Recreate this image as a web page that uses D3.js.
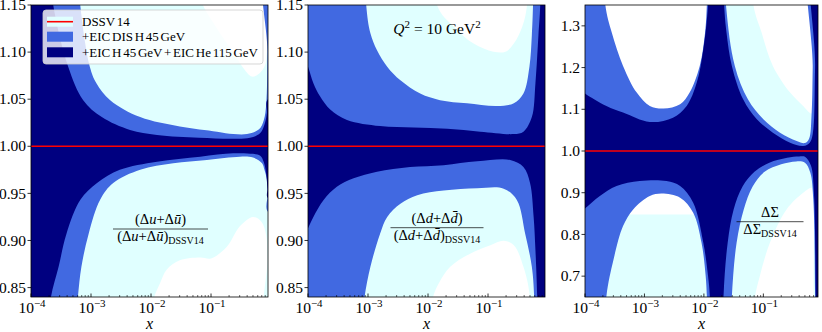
<!DOCTYPE html>
<html><head><meta charset="utf-8">
<script src="https://cdn.jsdelivr.net/npm/d3@7"></script>
<style>
body{margin:0;background:#fff;}
svg, svg text{font-family:"Liberation Serif","DejaVu Serif",serif;}
</style></head><body>
<svg id="chart" width="822" height="332" font-family="Liberation Serif, DejaVu Serif, serif"></svg>
<script>
// ---------- DATA (x given as log10 x, y as ratio) ----------
const xTickExponents = [-4, -3, -2, -1];
const yTicksUD = [0.85, 0.90, 0.95, 1.00, 1.05, 1.10, 1.15];
const yTicksSigma = [0.7, 0.8, 0.9, 1.0, 1.1, 1.2, 1.3];
const legendLabels = ["DSSV 14", "+EIC DIS H 45 GeV", "+EIC H 45 GeV + EIC He 115 GeV"];

// Panel 1: (Δu+Δū)
const uCyanUpper = [[-4.1,1.3],[-1.6,1.3],[-1.2,1.16],[-0.9,1.125],[-0.6,1.097],[-0.45,1.082],[-0.32,1.074],[-0.2,1.077],[-0.1,1.086],[-0.07,1.1],[-0.05,1.2],[-0.04,1.3]];
const uCyanLower = [[-4.1,0.7],[-2.05,0.8],[-1.95,0.839],[-1.85,0.8545],[-1.74,0.869],[-1.52,0.879],[-1.18,0.882],[-1.0,0.881],[-0.74,0.893],[-0.52,0.915],[-0.3,0.925],[-0.16,0.92],[-0.08,0.905],[-0.06,0.88],[-0.05,0.8]];
const uBlueUpper = [[-4.1,1.3],[-3.3,1.25],[-3.18,1.15],[-3.02,1.0845],[-2.91,1.067],[-2.68,1.049],[-2.18,1.031],[-1.52,1.021],[-0.9,1.0155],[-0.63,1.013],[-0.4,1.013],[-0.2,1.018],[-0.12,1.028],[-0.08,1.045],[-0.06,1.1],[-0.05,1.2]];
const uBlueLower = [[-4.1,0.6],[-3.27,0.8],[-3.22,0.839],[-3.16,0.872],[-3.04,0.907],[-2.85,0.943],[-2.63,0.961],[-2.18,0.975],[-1.63,0.982],[-1.07,0.9855],[-0.52,0.989],[-0.3,0.988],[-0.15,0.982],[-0.11,0.975],[-0.07,0.965],[-0.055,0.95],[-0.045,0.93]];
const uNavyUpper = [[-4.1,1.3],[-3.7,1.2],[-3.63,1.15],[-3.38,1.0845],[-3.13,1.049],[-2.82,1.031],[-2.35,1.0173],[-1.9,1.012],[-1.2,1.009],[-0.63,1.008],[-0.35,1.009],[-0.18,1.014],[-0.1,1.025],[-0.07,1.035],[-0.05,1.05]];
const uNavyLower = [[-4.1,0.6],[-3.72,0.8],[-3.67,0.839],[-3.54,0.872],[-3.41,0.907],[-3.18,0.943],[-2.9,0.961],[-2.52,0.975],[-1.9,0.9836],[-1.18,0.989],[-0.63,0.9926],[-0.3,0.992],[-0.18,0.99],[-0.12,0.983],[-0.08,0.97],[-0.06,0.955],[-0.05,0.945]];

// Panel 2: (Δd+Δd̄)
const dCyanUpper = [[-4.1,1.3],[-1.95,1.3],[-1.85,1.15],[-1.57,1.127],[-1.24,1.109],[-0.91,1.1004],[-0.71,1.1004],[-0.57,1.109],[-0.43,1.127],[-0.35,1.15],[-0.3,1.3]];
const dCyanLower = [[-4.1,0.7],[-2.0,0.8],[-1.92,0.839],[-1.82,0.8545],[-1.63,0.872],[-1.3,0.886],[-0.96,0.895],[-0.74,0.8998],[-0.57,0.895],[-0.41,0.872],[-0.3,0.839],[-0.25,0.7]];
const dBlueUpper = [[-4.1,1.3],[-3.1,1.3],[-3.03,1.15],[-2.96,1.12],[-2.85,1.102],[-2.68,1.0845],[-2.46,1.07],[-2.13,1.056],[-1.8,1.049],[-1.35,1.0457],[-0.85,1.0428],[-0.57,1.0457],[-0.41,1.056],[-0.31,1.0845],[-0.27,1.118],[-0.25,1.15],[-0.2,1.3]];
const dBlueLower = [[-4.1,0.7],[-3.12,0.8],[-3.06,0.839],[-2.96,0.872],[-2.8,0.907],[-2.68,0.925],[-2.46,0.939],[-2.18,0.948],[-1.74,0.953],[-1.18,0.9554],[-0.74,0.955],[-0.52,0.943],[-0.38,0.907],[-0.27,0.872],[-0.23,0.839],[-0.2,0.7]];
const dNavyUpper = [[-4.1,1.1],[-4.0,1.0845],[-3.91,1.067],[-3.8,1.053],[-3.63,1.039],[-3.35,1.028],[-2.8,1.0215],[-2.24,1.02],[-1.68,1.0185],[-1.13,1.0155],[-0.57,1.013],[-0.41,1.0155],[-0.27,1.031],[-0.21,1.067],[-0.16,1.118],[-0.13,1.15],[-0.1,1.3]];
const dNavyLower = [[-4.1,0.9],[-4.0,0.913],[-3.91,0.925],[-3.74,0.943],[-3.52,0.957],[-3.24,0.966],[-2.85,0.973],[-2.3,0.978],[-1.74,0.98],[-1.18,0.984],[-0.63,0.9855],[-0.41,0.978],[-0.3,0.961],[-0.24,0.925],[-0.21,0.89],[-0.18,0.839],[-0.15,0.7]];

// Panel 3: ΔΣ
const sCyanUpper = [[-4.1,0.848],[-1.95,0.848],[-1.85,0.848],[-1.75,1.6],[-1.25,1.6],[-1.17,1.352],[-1.03,1.284],[-0.84,1.204],[-0.55,1.14],[-0.33,1.108],[-0.19,1.0897],[-0.165,1.1],[-0.155,1.352],[-0.14,1.6]];
const sCyanLower = [[-4.1,0.4],[-1.3,0.4],[-1.18,0.6],[-1.14,0.652],[-1.06,0.70],[-0.89,0.78],[-0.61,0.86],[-0.33,0.90],[-0.19,0.912],[-0.165,0.9],[-0.155,0.652],[-0.14,0.4]];
const sBlueUpper = [[-4.1,1.6],[-3.72,1.6],[-3.66,1.352],[-3.55,1.284],[-3.36,1.204],[-3.13,1.14],[-2.91,1.108],[-2.68,1.1017],[-2.4,1.112],[-2.24,1.14],[-2.07,1.204],[-1.98,1.284],[-1.95,1.352],[-1.9,1.6],[-1.7,1.6],[-1.63,1.352],[-1.48,1.204],[-1.26,1.124],[-1.0,1.076],[-0.72,1.044],[-0.44,1.024],[-0.3,1.019],[-0.23,1.03],[-0.19,1.084],[-0.17,1.2],[-0.15,1.6]];
const sBlueLower = [[-4.1,0.4],[-3.7,0.5],[-3.64,0.652],[-3.52,0.74],[-3.36,0.82],[-3.19,0.86],[-2.91,0.892],[-2.71,0.898],[-2.4,0.888],[-2.18,0.852],[-2.04,0.78],[-1.97,0.70],[-1.95,0.652],[-1.9,0.4],[-1.7,0.4],[-1.56,0.5],[-1.53,0.652],[-1.45,0.78],[-1.33,0.86],[-1.18,0.915],[-0.98,0.95],[-0.7,0.968],[-0.45,0.975],[-0.3,0.972],[-0.21,0.948],[-0.16,0.884],[-0.13,0.652],[-0.11,0.4]];
const sNavyUpper = [[-4.1,1.15],[-4.0,1.138],[-3.64,1.108],[-3.36,1.092],[-2.91,1.0695],[-2.52,1.08],[-2.29,1.108],[-2.12,1.164],[-2.01,1.244],[-1.93,1.352],[-1.88,1.6],[-1.7,1.6],[-1.66,1.352],[-1.62,1.284],[-1.53,1.204],[-1.34,1.124],[-1.11,1.076],[-0.84,1.044],[-0.55,1.02],[-0.33,1.012],[-0.22,1.02],[-0.17,1.04],[-0.13,1.2],[-0.1,1.6]];
const sNavyLower = [[-4.1,0.85],[-4.0,0.862],[-3.75,0.892],[-3.47,0.916],[-3.08,0.928],[-2.63,0.928],[-2.4,0.916],[-2.18,0.876],[-2.01,0.78],[-1.93,0.70],[-1.9,0.652],[-1.86,0.4],[-1.7,0.4],[-1.67,0.652],[-1.6,0.78],[-1.5,0.86],[-1.35,0.915],[-1.15,0.95],[-0.9,0.972],[-0.6,0.984],[-0.4,0.987],[-0.3,0.986],[-0.2,0.965],[-0.15,0.9],[-0.12,0.652],[-0.1,0.4]];

const centralValue = 1.0;

// ---------- LAYOUT / STYLE ----------
const COL = {cyan:"#e0ffff", blue:"#4169e1", navy:"#000080", red:"#ff0000"};
const FONT = "Liberation Serif, DejaVu Serif, serif";
const plotTop = 5, plotBottom = 297;
const panels = [
  {left:31, right:268, xMax:0.89, yDomain:[0.84,1.15], yTicks:yTicksUD, fmt:d3.format(".2f"),
   bands:[[uCyanUpper,uCyanLower,COL.cyan],[uBlueUpper,uBlueLower,COL.blue],[uNavyUpper,uNavyLower,COL.navy]]},
  {left:308, right:545, xMax:0.89, yDomain:[0.84,1.15], yTicks:yTicksUD, fmt:d3.format(".2f"),
   bands:[[dCyanUpper,dCyanLower,COL.cyan],[dBlueUpper,dBlueLower,COL.blue],[dNavyUpper,dNavyLower,COL.navy]]},
  {left:585, right:818, xMax:0.83, yDomain:[0.65,1.35], yTicks:yTicksSigma, fmt:d3.format(".1f"),
   bands:[[sCyanUpper,sCyanLower,COL.cyan],[sBlueUpper,sBlueLower,COL.blue],[sNavyUpper,sNavyLower,COL.navy]]}
];

const svg = d3.select("#chart");
const defs = svg.append("defs");
const line = d3.line().curve(d3.curveCatmullRom.alpha(0.5));
const txt = (sel) => sel.append("text").attr("font-family", FONT).attr("fill", "#000");

panels.forEach((p, i) => {
  const x = d3.scaleLog().domain([1e-4, p.xMax]).range([p.left, p.right]);
  const y = d3.scaleLinear().domain(p.yDomain).range([plotBottom, plotTop]);
  defs.append("clipPath").attr("id", "clip" + i)
    .append("rect").attr("x", p.left).attr("y", plotTop)
    .attr("width", p.right - p.left).attr("height", plotBottom - plotTop);
  const g = svg.append("g").attr("clip-path", `url(#clip${i})`);
  p.bands.forEach(([up, lo, col]) => {
    const ext = arr => [[-5, arr[0][1]], ...arr, [1, arr[arr.length - 1][1]]];
    const U = ext(up).map(([lx, v]) => [x(Math.pow(10, lx)), y(v)]);
    const L = ext(lo).map(([lx, v]) => [x(Math.pow(10, lx)), y(v)]).reverse();
    g.append("path").attr("d", line(U.concat(L)) + "Z").attr("fill", col).attr("stroke", "none");
  });
  g.append("line").attr("x1", p.left).attr("x2", p.right)
    .attr("y1", y(centralValue)).attr("y2", y(centralValue))
    .attr("stroke", COL.red).attr("stroke-width", 1.6);

  const ax = svg.append("g");
  const minor = [];
  for (let e = -4; e <= 0; e++) for (let m = 2; m <= 9; m++) {
    const v = m * Math.pow(10, e); if (v <= p.xMax) minor.push(v);
  }
  minor.forEach(v => ax.append("line").attr("x1", x(v)).attr("x2", x(v))
    .attr("y1", plotBottom).attr("y2", plotBottom - 2).attr("stroke", "#000").attr("stroke-width", 0.6));
  xTickExponents.forEach(e => {
    const xv = x(Math.pow(10, e));
    ax.append("line").attr("x1", xv).attr("x2", xv).attr("y1", plotBottom).attr("y2", plotBottom - 3.5)
      .attr("stroke", "#000").attr("stroke-width", 0.8);
    const t = txt(ax).attr("x", xv + 1).attr("y", 313).attr("text-anchor", "middle").attr("font-size", 15.5);
    t.append("tspan").text("10");
    t.append("tspan").attr("dy", -6).attr("font-size", 11).text("\u2212" + Math.abs(e));
  });
  p.yTicks.forEach(v => {
    const yv = y(v);
    ax.append("line").attr("x1", p.left).attr("x2", p.left - 3.5).attr("y1", yv).attr("y2", yv)
      .attr("stroke", "#000").attr("stroke-width", 0.8);
    txt(ax).attr("x", p.left - 5).attr("y", yv + 5.2).attr("text-anchor", "end")
      .attr("font-size", 15.5).text(p.fmt(v));
  });
  svg.append("rect").attr("x", p.left).attr("y", plotTop).attr("width", p.right - p.left)
    .attr("height", plotBottom - plotTop).attr("fill", "none").attr("stroke", "#000").attr("stroke-width", 0.8);
  txt(svg).attr("x", (p.left + p.right) / 2).attr("y", 329).attr("text-anchor", "middle")
    .attr("font-size", 16).attr("font-style", "italic").text("x");
});

// ---------- LEGEND ----------
const lg = svg.append("g");
lg.append("rect").attr("x", 43).attr("y", 10).attr("width", 220).attr("height", 54).attr("rx", 3)
  .attr("fill", "#fff").attr("fill-opacity", 0.8).attr("stroke", "#ccc").attr("stroke-opacity", 0.8);
const rows = [21.7, 36.7, 52.3];
const legendFills = [COL.cyan, COL.blue, COL.navy];
legendLabels.forEach((lab, i) => {
  lg.append("rect").attr("x", 47).attr("y", rows[i] - 5).attr("width", 26).attr("height", 10)
    .attr("fill", legendFills[i]);
  if (i === 0) lg.append("line").attr("x1", 47).attr("x2", 73).attr("y1", rows[i]).attr("y2", rows[i])
    .attr("stroke", COL.red).attr("stroke-width", 1.6);
  txt(lg).attr("x", 82).attr("y", rows[i] + 4.7).attr("font-size", 13).attr("word-spacing", -1.5).text(lab);
});

// ---------- ANNOTATIONS ----------
function frac(cx, yBar, halfW, numParts, denParts) {
  const g = svg.append("g");
  const add = (yy, parts) => {
    const t = txt(g).attr("x", cx).attr("y", yy).attr("text-anchor", "middle").attr("font-size", 14.5);
    parts.forEach(pt => {
      const s = t.append("tspan").text(pt.t);
      if (pt.i) s.attr("font-style", "italic");
      if (pt.sub) s.attr("font-size", 10).attr("dy", 3);
    });
  };
  add(yBar - 5, numParts);
  g.append("line").attr("x1", cx - halfW).attr("x2", cx + halfW).attr("y1", yBar).attr("y2", yBar)
    .attr("stroke", "#000").attr("stroke-width", 0.7);
  add(yBar + 12, denParts);
}
frac(160.5, 229, 47.5,
  [{t:"(Δ"},{t:"u",i:1},{t:"+Δ"},{t:"ū",i:1},{t:")"}],
  [{t:"(Δ"},{t:"u",i:1},{t:"+Δ"},{t:"ū",i:1},{t:")"},{t:"DSSV14",sub:1}]);
frac(437, 227.7, 46.5,
  [{t:"(Δ"},{t:"d",i:1},{t:"+Δ"},{t:"d\u0304",i:1},{t:")"}],
  [{t:"(Δ"},{t:"d",i:1},{t:"+Δ"},{t:"d\u0304",i:1},{t:")"},{t:"DSSV14",sub:1}]);
frac(770, 221.7, 33.5,
  [{t:"ΔΣ"}],
  [{t:"ΔΣ"},{t:"DSSV14",sub:1}]);

const q = txt(svg).attr("x", 437).attr("y", 34).attr("text-anchor", "middle").attr("font-size", 15.5);
q.append("tspan").attr("font-style", "italic").text("Q");
q.append("tspan").attr("dy", -6).attr("font-size", 11).text("2");
q.append("tspan").attr("dy", 6).text(" = 10 GeV");
q.append("tspan").attr("dy", -6).attr("font-size", 11).text("2");
</script></body></html>
